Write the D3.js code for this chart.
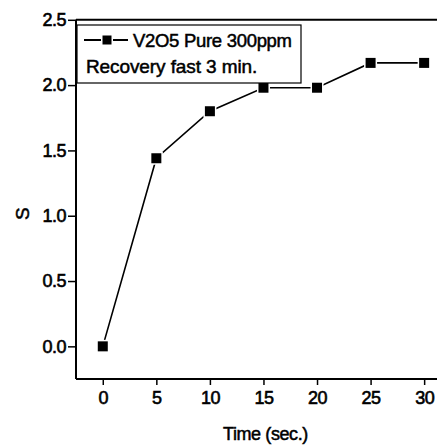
<!DOCTYPE html>
<html><head><meta charset="utf-8">
<script src="https://cdn.jsdelivr.net/npm/d3@7"></script>
<style>html,body{margin:0;padding:0;background:#fff;}svg{display:block;}</style>
</head><body>
<svg id="c" width="437" height="447"></svg>
<script>
const times = [0, 5, 10, 15, 20, 25, 30];
const sValues = [0.0, 1.44, 1.80, 1.98, 1.98, 2.17, 2.17];
const xTicks = [0, 5, 10, 15, 20, 25, 30];
const yTicks = [0.0, 0.5, 1.0, 1.5, 2.0, 2.5];
const legendLines = ["V2O5 Pure 300ppm", "Recovery fast 3 min."];
const xTitle = "Time (sec.)";
const yTitle = "S";

const svg = d3.select("#c");
const W = 437, H = 447;
const pLeft = 76, pRight = 437, pTop = 19.8, pBottom = 379;
const x = d3.scaleLinear().domain([-2.5, 31.2]).range([pLeft, pRight]);
const y = d3.scaleLinear().domain([-0.25, 2.5]).range([pBottom, pTop]);
const font = "'Liberation Sans', Arial, sans-serif";

// top frame line
svg.append("line").attr("x1", pLeft).attr("x2", W).attr("y1", y(2.5)).attr("y2", y(2.5))
  .attr("stroke", "#000").attr("stroke-width", 2);

// axes
const yAxis = d3.axisLeft(y).tickValues(yTicks).tickFormat(d3.format(".1f")).tickSize(8).tickPadding(2);
const gy = svg.append("g").attr("transform", `translate(${pLeft},0)`).call(yAxis);
gy.select(".domain").attr("stroke-width", 2).attr("d", `M0,${pTop}V${pBottom}`);
gy.selectAll(".tick line").attr("stroke-width", 1.5);
gy.selectAll("text").attr("font-family", font).attr("font-size", 18).attr("fill", "#000")
  .attr("letter-spacing", -0.5).attr("stroke", "#000").attr("stroke-width", 0.6);

const xAxis = d3.axisBottom(x).tickValues(xTicks).tickFormat(d3.format("d")).tickSize(6).tickPadding(6);
const gx = svg.append("g").attr("transform", `translate(0,${pBottom})`).call(xAxis);
gx.select(".domain").attr("stroke-width", 2).attr("d", `M${pLeft},0H${W}`);
gx.selectAll(".tick line").attr("stroke-width", 1.5);
gx.selectAll("text").attr("font-family", font).attr("font-size", 18).attr("fill", "#000")
  .attr("letter-spacing", -0.5).attr("stroke", "#000").attr("stroke-width", 0.6);

// titles
svg.append("text").attr("x", (x(0) + x(30)) / 2 + 2).attr("y", 440).attr("text-anchor", "middle")
  .attr("font-family", font).attr("font-size", 18).attr("letter-spacing", -0.4)
  .attr("stroke", "#000").attr("stroke-width", 0.5).text(xTitle);
svg.append("text").attr("transform", `translate(29,${y(1.0) - 2}) rotate(-90)`).attr("text-anchor", "middle")
  .attr("font-family", font).attr("font-size", 19)
  .attr("stroke", "#000").attr("stroke-width", 0.5).text(yTitle);

// data line
const data = times.map((t, i) => ({t, v: sValues[i]}));
svg.append("path").datum(data)
  .attr("d", d3.line().x(d => x(d.t)).y(d => y(d.v)))
  .attr("fill", "none").attr("stroke", "#000").attr("stroke-width", 1.6);
const ms = 10;
svg.selectAll("rect.m").data(data).join("rect").attr("class", "m")
  .attr("x", d => x(d.t) - ms / 2).attr("y", d => y(d.v) - ms / 2)
  .attr("width", ms).attr("height", ms).attr("fill", "#000")
  .attr("stroke", "#fff").attr("stroke-width", 3).attr("paint-order", "stroke");

// legend
const lg = svg.append("g");
lg.append("rect").attr("x", 77).attr("y", 25).attr("width", 224).attr("height", 58)
  .attr("fill", "#fff").attr("stroke", "#000").attr("stroke-width", 1.2);
const ly = 40;
lg.append("line").attr("x1", 84).attr("x2", 128).attr("y1", ly).attr("y2", ly)
  .attr("stroke", "#000").attr("stroke-width", 2);
lg.append("rect").attr("x", 107 - 4.5).attr("y", ly - 4.5).attr("width", 9).attr("height", 9)
  .attr("fill", "#000").attr("stroke", "#fff").attr("stroke-width", 3).attr("paint-order", "stroke");
lg.append("text").attr("x", 133).attr("y", 47).attr("font-family", font).attr("font-size", 18.5)
  .attr("letter-spacing", -0.3).attr("stroke", "#000").attr("stroke-width", 0.5).text(legendLines[0]);
lg.append("text").attr("x", 86).attr("y", 73).attr("font-family", font).attr("font-size", 19)
  .attr("letter-spacing", -0.1).attr("stroke", "#000").attr("stroke-width", 0.5).text(legendLines[1]);
</script>
</body></html>
